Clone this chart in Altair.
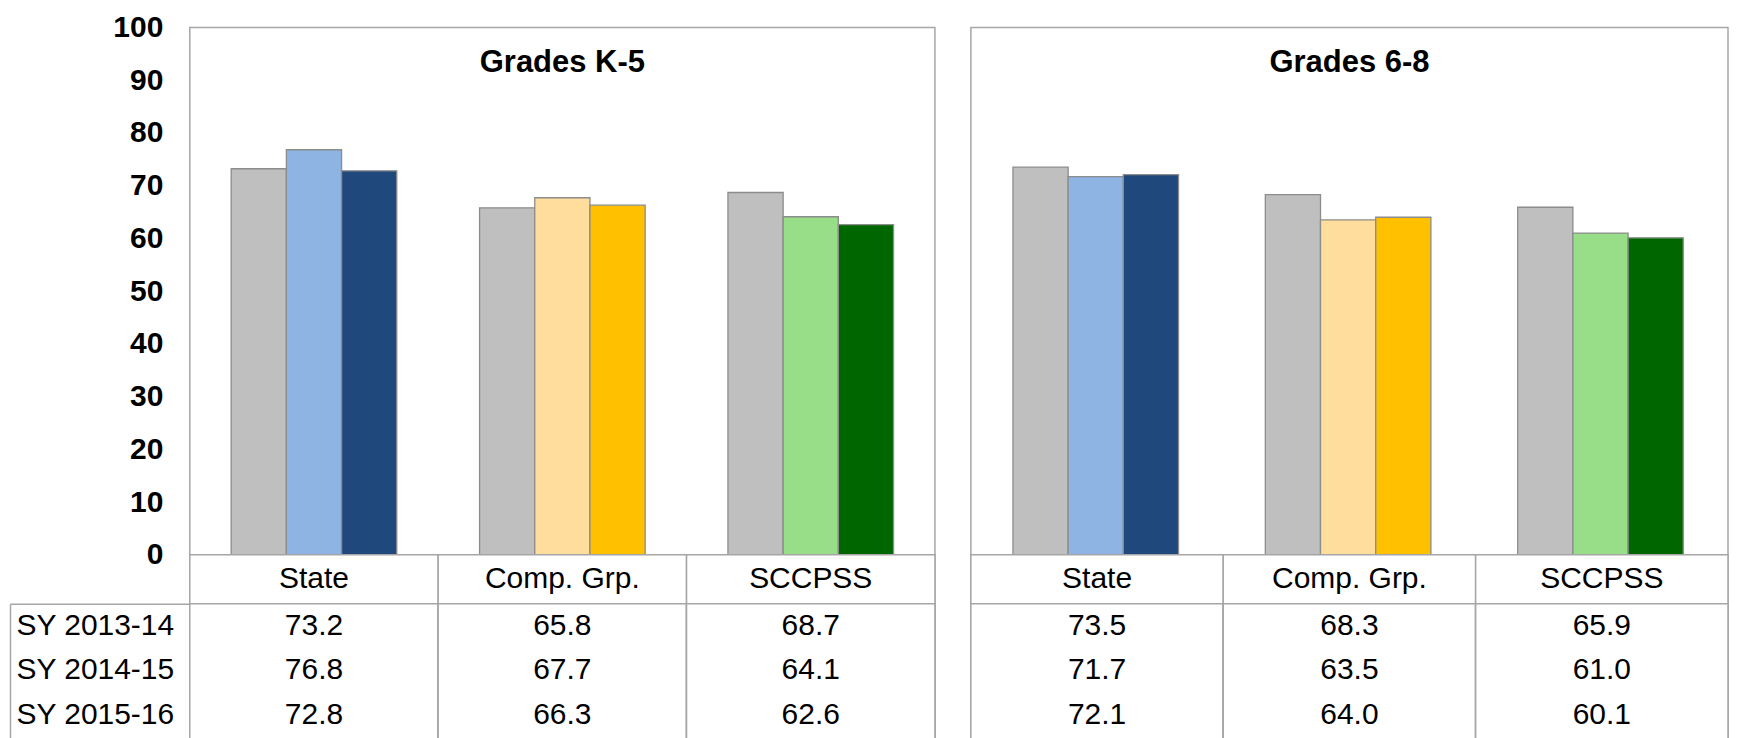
import altair as alt
import pandas as pd

FONT = "Liberation Sans"
GRID = "#a6a6a6"

categories = ["State", "Comp. Grp.", "SCCPSS"]
years = ["SY 2013-14", "SY 2014-15", "SY 2015-16"]
panel_titles = ["Grades K-5", "Grades 6-8"]

k5_state = [73.2, 76.8, 72.8]
k5_comp = [65.8, 67.7, 66.3]
k5_sccpss = [68.7, 64.1, 62.6]

g68_state = [73.5, 71.7, 72.1]
g68_comp = [68.3, 63.5, 64.0]
g68_sccpss = [65.9, 61.0, 60.1]

y_ticks = [0, 10, 20, 30, 40, 50, 60, 70, 80, 90, 100]

state_colors = ["#BFBFBF", "#8EB4E3", "#1F497D"]
comp_colors = ["#BFBFBF", "#FFDD9C", "#FFC000"]
sccpss_colors = ["#BFBFBF", "#98DD88", "#006600"]

color_keys = [c + "|" + y for c in categories for y in years]
color_range = state_colors + comp_colors + sccpss_colors

TABLE_H = 150
ROW_PAD = 0.185
ROW_STEP = TABLE_H / (len(years) + 2 * ROW_PAD)


def make_frame(series):
    rows = []
    for cat, vals in zip(categories, series):
        for yr, v in zip(years, vals):
            rows.append({"cat": cat, "year": yr, "value": v, "key": cat + "|" + yr})
    return pd.DataFrame(rows)


def bars(df, title, width, show_axis):
    if show_axis:
        yaxis = alt.Axis(values=y_ticks, labelFont=FONT, labelFontSize=30,
                         labelFontWeight="bold", labelColor="#000000",
                         labelPadding=27, ticks=False, domain=False,
                         grid=False, title=None)
    else:
        yaxis = None
    b = alt.Chart(df).mark_bar(stroke="#8c8c8c", strokeWidth=1.3).encode(
        x=alt.X("cat:N", sort=categories, axis=None,
                scale=alt.Scale(paddingInner=1 / 3, paddingOuter=1 / 6)),
        xOffset=alt.XOffset("year:N", sort=years,
                            scale=alt.Scale(paddingInner=0, paddingOuter=0)),
        y=alt.Y("value:Q", scale=alt.Scale(domain=[0, 100], nice=False), axis=yaxis),
        color=alt.Color("key:N", scale=alt.Scale(domain=color_keys, range=color_range),
                        legend=None),
    )
    t = alt.Chart(pd.DataFrame({"t": [title]})).mark_text(
        font=FONT, fontSize=31, fontWeight="bold", color="#000000", baseline="middle"
    ).encode(text="t:N", x=alt.value(width / 2), y=alt.value(36))
    return alt.layer(b, t).properties(width=width, height=528)


def header(width):
    hdf = pd.DataFrame({"cat": categories})
    xs = alt.X("cat:N", sort=categories, axis=None,
               scale=alt.Scale(paddingInner=0, paddingOuter=0))
    cells = alt.Chart(hdf).mark_rect(fill="white", stroke=GRID, strokeWidth=1.5).encode(x=xs)
    txt = alt.Chart(hdf).mark_text(font=FONT, fontSize=30, color="#000000").encode(
        x=xs, text="cat:N")
    return alt.layer(cells, txt).properties(width=width, height=49)


def table(df, width, show_labels):
    xs = alt.X("cat:N", sort=categories, axis=None,
               scale=alt.Scale(paddingInner=0, paddingOuter=0))
    yscale = alt.Scale(type="band", paddingInner=0, paddingOuter=ROW_PAD, align=0)
    cols = alt.Chart(df).mark_rect(fill="white", stroke=GRID, strokeWidth=1.5).encode(x=xs)
    if show_labels:
        yaxis = alt.Axis(title=None, labelAlign="left", labelPadding=174,
                         labelFont=FONT, labelFontSize=30, labelColor="#000000",
                         ticks=False, domain=False, grid=False)
    else:
        yaxis = None
    txt = alt.Chart(df).mark_text(font=FONT, fontSize=30, color="#000000").encode(
        x=xs,
        y=alt.Y("year:N", sort=years, axis=yaxis, scale=yscale),
        text=alt.Text("value:Q", format=".1f"),
    )
    layers = [cols, txt]
    if show_labels:
        edge = alt.Chart(df).mark_text(opacity=0).encode(
            x=xs,
            y=alt.Y("year:N", sort=years, scale=yscale,
                    axis=alt.Axis(orient="left", offset=180, labels=False, ticks=False,
                                  domain=True, domainColor=GRID, domainWidth=1.5,
                                  grid=False, title=None)),
            text=alt.Text("value:Q", format=".1f"),
        )
        topline = alt.Chart(df).mark_text(opacity=0).encode(
            x=xs,
            y=alt.Y("year:N", sort=years, scale=yscale,
                    axis=alt.Axis(orient="left", values=[years[0]], labels=False,
                                  ticks=True, tickSize=180, tickBand="center",
                                  tickOffset=-ROW_STEP / 2,
                                  tickColor=GRID, tickWidth=1.5,
                                  domain=False, grid=False, title=None)),
            text=alt.Text("value:Q", format=".1f"),
        )
        layers += [edge, topline]
    lay = alt.layer(*layers).properties(width=width, height=TABLE_H)
    if show_labels:
        lay = lay.resolve_axis(y="independent")
    return lay


df_k5 = make_frame([k5_state, k5_comp, k5_sccpss])
df_68 = make_frame([g68_state, g68_comp, g68_sccpss])

W_LEFT = 746
W_RIGHT = 758

chart = alt.concat(
    bars(df_k5, panel_titles[0], W_LEFT, True),
    bars(df_68, panel_titles[1], W_RIGHT, False),
    header(W_LEFT),
    header(W_RIGHT),
    table(df_k5, W_LEFT, True),
    table(df_68, W_RIGHT, False),
    columns=2,
    spacing={"row": 0, "column": 36},
    bounds="flush",
).resolve_scale(
    x="independent", y="independent", color="independent"
).properties(
    padding={"left": 0, "top": 3, "right": 0, "bottom": 0},
    background="white",
).configure_view(stroke=GRID, strokeWidth=1.5)

chart.save("out.html", embed_options={"renderer": "svg", "actions": False})
